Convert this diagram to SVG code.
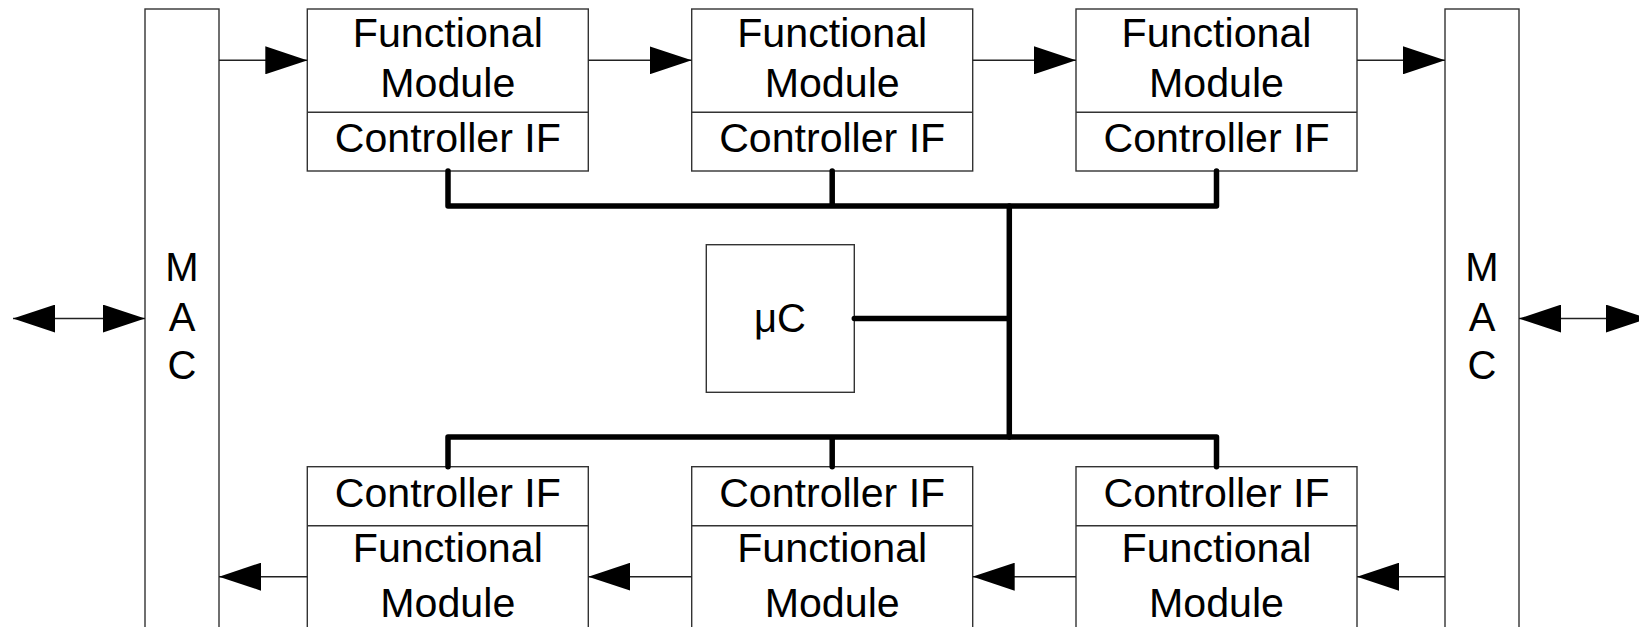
<svg xmlns="http://www.w3.org/2000/svg" width="1639" height="627" viewBox="0 0 1639 627">
  <style>
    .box { fill: #fff; stroke: #333; stroke-width: 1.4; }
    .div { stroke: #333; stroke-width: 1.4; fill: none; }
    .lbl { font-family: "Liberation Sans", Arial, sans-serif; font-size: 40px; fill: #000; text-anchor: middle; }
    .flow { stroke: #222; stroke-width: 1.5; fill: none; marker-end: url(#head); }
    .both { stroke: #222; stroke-width: 1.5; fill: none; marker-start: url(#head); marker-end: url(#head); }
    .bus { stroke: #000; stroke-width: 5.5; fill: none; stroke-linejoin: round; stroke-linecap: round; }
  </style>
  <defs>
    <marker id="head" markerUnits="userSpaceOnUse" markerWidth="42" markerHeight="28" viewBox="0 0 42 28" refX="42" refY="14" orient="auto-start-reverse">
      <path d="M0,0 L42,14 L0,28 Z" fill="#000"/>
    </marker>
  </defs>

  <rect width="1639" height="627" fill="#fff"/>

  <!-- MAC blocks -->
  <g id="mac-left">
    <rect class="box" x="145" y="9" width="74" height="640"/>
    <text class="lbl" x="182" y="280.7">M</text>
    <text class="lbl" x="182" y="330.7">A</text>
    <text class="lbl" x="182" y="379">C</text>
  </g>
  <g id="mac-right">
    <rect class="box" x="1445" y="9" width="74" height="640"/>
    <text class="lbl" x="1482" y="280.7">M</text>
    <text class="lbl" x="1482" y="330.7">A</text>
    <text class="lbl" x="1482" y="379">C</text>
  </g>

  <!-- upper chain of functional modules -->
  <g id="fm-top-1">
    <rect class="box" x="307.3" y="9" width="281" height="162"/>
    <line class="div" x1="307.3" y1="112.3" x2="588.3" y2="112.3"/>
    <text class="lbl" x="447.8" y="46.7" textLength="190" lengthAdjust="spacingAndGlyphs">Functional</text>
    <text class="lbl" x="447.8" y="96.7" textLength="135" lengthAdjust="spacingAndGlyphs">Module</text>
    <text class="lbl" x="447.8" y="151.7" textLength="226" lengthAdjust="spacingAndGlyphs">Controller IF</text>
  </g>
  <g id="fm-top-2">
    <rect class="box" x="691.7" y="9" width="281" height="162"/>
    <line class="div" x1="691.7" y1="112.3" x2="972.7" y2="112.3"/>
    <text class="lbl" x="832.2" y="46.7" textLength="190" lengthAdjust="spacingAndGlyphs">Functional</text>
    <text class="lbl" x="832.2" y="96.7" textLength="135" lengthAdjust="spacingAndGlyphs">Module</text>
    <text class="lbl" x="832.2" y="151.7" textLength="226" lengthAdjust="spacingAndGlyphs">Controller IF</text>
  </g>
  <g id="fm-top-3">
    <rect class="box" x="1076" y="9" width="281" height="162"/>
    <line class="div" x1="1076" y1="112.3" x2="1357" y2="112.3"/>
    <text class="lbl" x="1216.5" y="46.7" textLength="190" lengthAdjust="spacingAndGlyphs">Functional</text>
    <text class="lbl" x="1216.5" y="96.7" textLength="135" lengthAdjust="spacingAndGlyphs">Module</text>
    <text class="lbl" x="1216.5" y="151.7" textLength="226" lengthAdjust="spacingAndGlyphs">Controller IF</text>
  </g>

  <!-- lower chain of functional modules -->
  <g id="fm-bottom-1">
    <rect class="box" x="307.3" y="466.7" width="281" height="162"/>
    <line class="div" x1="307.3" y1="525.7" x2="588.3" y2="525.7"/>
    <text class="lbl" x="447.8" y="506.7" textLength="226" lengthAdjust="spacingAndGlyphs">Controller IF</text>
    <text class="lbl" x="447.8" y="561.7" textLength="190" lengthAdjust="spacingAndGlyphs">Functional</text>
    <text class="lbl" x="447.8" y="616.7" textLength="135" lengthAdjust="spacingAndGlyphs">Module</text>
  </g>
  <g id="fm-bottom-2">
    <rect class="box" x="691.7" y="466.7" width="281" height="162"/>
    <line class="div" x1="691.7" y1="525.7" x2="972.7" y2="525.7"/>
    <text class="lbl" x="832.2" y="506.7" textLength="226" lengthAdjust="spacingAndGlyphs">Controller IF</text>
    <text class="lbl" x="832.2" y="561.7" textLength="190" lengthAdjust="spacingAndGlyphs">Functional</text>
    <text class="lbl" x="832.2" y="616.7" textLength="135" lengthAdjust="spacingAndGlyphs">Module</text>
  </g>
  <g id="fm-bottom-3">
    <rect class="box" x="1076" y="466.7" width="281" height="162"/>
    <line class="div" x1="1076" y1="525.7" x2="1357" y2="525.7"/>
    <text class="lbl" x="1216.5" y="506.7" textLength="226" lengthAdjust="spacingAndGlyphs">Controller IF</text>
    <text class="lbl" x="1216.5" y="561.7" textLength="190" lengthAdjust="spacingAndGlyphs">Functional</text>
    <text class="lbl" x="1216.5" y="616.7" textLength="135" lengthAdjust="spacingAndGlyphs">Module</text>
  </g>

  <!-- microcontroller -->
  <g id="uc">
    <rect class="box" x="706.3" y="244.7" width="148" height="147.6"/>
    <text class="lbl" x="780" y="332">μC</text>
  </g>

  <g id="connectors">
    <!-- data flow, upper chain -->
    <line class="flow" x1="219" y1="60.3" x2="307.3" y2="60.3"/>
    <line class="flow" x1="588.3" y1="60.3" x2="691.7" y2="60.3"/>
    <line class="flow" x1="972.7" y1="60.3" x2="1076" y2="60.3"/>
    <line class="flow" x1="1357" y1="60.3" x2="1445" y2="60.3"/>
    <!-- data flow, lower chain -->
    <line class="flow" x1="1445" y1="576.7" x2="1357" y2="576.7"/>
    <line class="flow" x1="1076" y1="576.7" x2="972.7" y2="576.7"/>
    <line class="flow" x1="691.7" y1="576.7" x2="588.3" y2="576.7"/>
    <line class="flow" x1="307.3" y1="576.7" x2="219" y2="576.7"/>
    <!-- external ports -->
    <line class="both" x1="13" y1="318.6" x2="145" y2="318.6"/>
    <line class="both" x1="1519" y1="318.6" x2="1648" y2="318.6"/>
    <!-- control bus -->
    <path class="bus" d="M448,171 V206 H1216.5 V171 M832.2,171 V206"/>
    <path class="bus" d="M448,466.7 V437 H1216.5 V466.7 M832.2,466.7 V437"/>
    <path class="bus" d="M1009.3,206 V437 M854.3,318.6 H1009.3"/>
  </g>
</svg>
